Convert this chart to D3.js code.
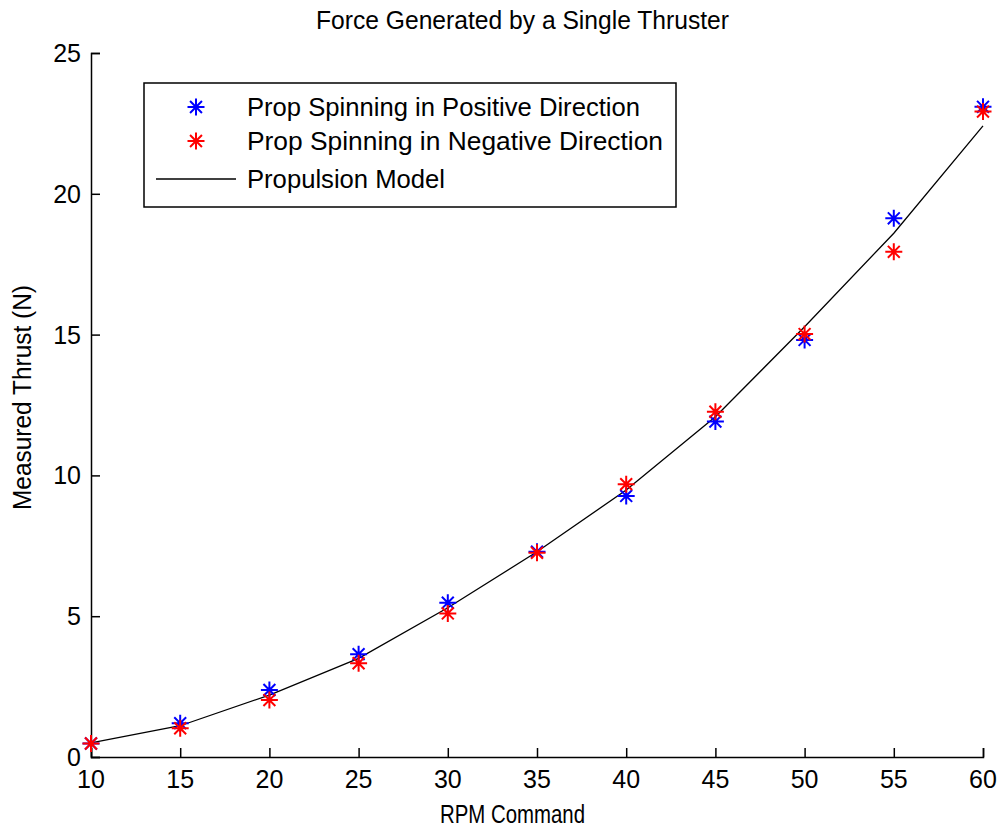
<!DOCTYPE html>
<html>
<head>
<meta charset="utf-8">
<script src="https://cdn.jsdelivr.net/npm/d3@7"></script>
<style>
  body { margin: 0; background: #fff; }
  text { font-family: "Liberation Sans", Arial, sans-serif; fill: #000; }
</style>
</head>
<body>
<div id="chart"></div>
<script>
// data
var rpm = [10, 15, 20, 25, 30, 35, 40, 45, 50, 55, 60];
var thrustPos = [0.48, 1.20, 2.38, 3.65, 5.48, 7.29, 9.27, 11.91, 14.81, 19.13, 23.09];
var thrustNeg = [0.48, 1.02, 2.02, 3.33, 5.10, 7.25, 9.69, 12.26, 15.02, 17.94, 22.92];
var modelThrust = [0.50, 1.11, 2.20, 3.50, 5.30, 7.29, 9.48, 12.08, 15.28, 18.60, 22.41];
var xTicks = [10, 15, 20, 25, 30, 35, 40, 45, 50, 55, 60];
var yTicks = [0, 5, 10, 15, 20, 25];
var legendLabels = ["Prop Spinning in Positive Direction", "Prop Spinning in Negative Direction", "Propulsion Model"];

var width = 1003, height = 833;
var margin = {left: 91, right: 20, top: 53, bottom: 76};
var fs = 25;

var svg = d3.select("#chart").append("svg")
    .attr("width", width)
    .attr("height", height);

var x = d3.scaleLinear().domain([10, 60]).range([margin.left, width - margin.right]);
var y = d3.scaleLinear().domain([0, 25]).range([height - margin.bottom, margin.top]);

// asterisk marker like matlab '*'
function star(s) {
    var d = s * 0.7;
    return "M" + (-s) + ",0H" + s + "M0," + (-s) + "V" + s +
        "M" + (-d) + "," + (-d) + "L" + d + "," + d +
        "M" + (-d) + "," + d + "L" + d + "," + (-d);
}

// axes (box off, ticks inward)
var xAxis = svg.append("g")
    .attr("transform", "translate(0," + y(0) + ")")
    .call(d3.axisTop(x).tickValues(xTicks).tickSize(9).tickFormat(""));
var yAxis = svg.append("g")
    .attr("transform", "translate(" + x(10) + ",0)")
    .call(d3.axisRight(y).tickValues(yTicks).tickSize(9).tickFormat(""));
[xAxis, yAxis].forEach(function(a) {
    a.select(".domain").attr("stroke", "#000").attr("stroke-width", 1.5);
    a.selectAll(".tick line").attr("stroke", "#000").attr("stroke-width", 1.5);
});

svg.append("g").selectAll("text")
    .data(xTicks)
    .join("text")
    .attr("x", d => x(d))
    .attr("y", y(0) + 31)
    .attr("text-anchor", "middle")
    .style("font-size", fs + "px")
    .text(d => d);

svg.append("g").selectAll("text")
    .data(yTicks)
    .join("text")
    .attr("x", x(10) - 10)
    .attr("y", d => y(d) + 9)
    .attr("text-anchor", "end")
    .style("font-size", fs + "px")
    .text(d => d);

// model line
var pts = rpm.map((r, i) => [r, modelThrust[i]]);
svg.append("path")
    .datum(pts)
    .attr("fill", "none")
    .attr("stroke", "#000")
    .attr("stroke-width", 1.3)
    .attr("d", d3.line().x(d => x(d[0])).y(d => y(d[1])));

// measured points
function drawStars(vals, color) {
    svg.append("g").selectAll("path")
        .data(vals)
        .join("path")
        .attr("transform", (d, i) => "translate(" + x(rpm[i]) + "," + y(d) + ")")
        .attr("d", star(8.5))
        .attr("fill", "none")
        .attr("stroke", color)
        .attr("stroke-width", 2);
}
drawStars(thrustPos, "#0000ff");
drawStars(thrustNeg, "#ff0000");

// titles (widths fitted to the picture's bitmap font)
svg.append("text")
    .attr("x", 316)
    .attr("y", 29)
    .attr("textLength", 413)
    .attr("lengthAdjust", "spacingAndGlyphs")
    .style("font-size", fs + "px")
    .text("Force Generated by a Single Thruster");

svg.append("text")
    .attr("x", 440)
    .attr("y", 823)
    .attr("textLength", 145)
    .attr("lengthAdjust", "spacingAndGlyphs")
    .style("font-size", fs + "px")
    .text("RPM Command");

svg.append("text")
    .attr("transform", "translate(31,510) rotate(-90)")
    .attr("textLength", 225)
    .attr("lengthAdjust", "spacingAndGlyphs")
    .style("font-size", fs + "px")
    .text("Measured Thrust (N)");

// legend
var lg = svg.append("g").attr("transform", "translate(144,83)");
lg.append("rect")
    .attr("width", 532)
    .attr("height", 124)
    .attr("fill", "#fff")
    .attr("stroke", "#000")
    .attr("stroke-width", 1.5);
var rowY = [24, 58, 96];
var textLen = [393, 416, 198];
lg.append("path").attr("transform", "translate(52," + rowY[0] + ")").attr("d", star(8.5))
    .attr("stroke", "#0000ff").attr("stroke-width", 2).attr("fill", "none");
lg.append("path").attr("transform", "translate(52," + rowY[1] + ")").attr("d", star(8.5))
    .attr("stroke", "#ff0000").attr("stroke-width", 2).attr("fill", "none");
lg.append("line")
    .attr("x1", 12).attr("x2", 92)
    .attr("y1", rowY[2]).attr("y2", rowY[2])
    .attr("stroke", "#000").attr("stroke-width", 1.3);
lg.selectAll("text.lab")
    .data(legendLabels)
    .join("text")
    .attr("class", "lab")
    .attr("x", 103)
    .attr("y", (d, i) => rowY[i] + 9)
    .attr("textLength", (d, i) => textLen[i])
    .attr("lengthAdjust", "spacingAndGlyphs")
    .style("font-size", fs + "px")
    .text(d => d);
</script>
</body>
</html>
